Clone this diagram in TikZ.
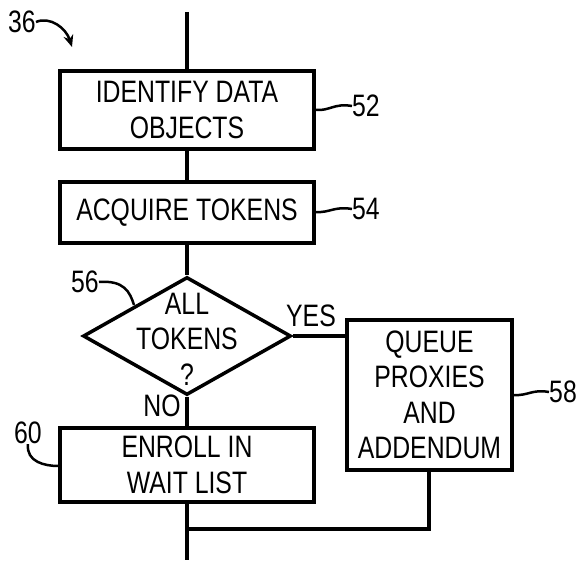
\documentclass[tikz,border=0pt]{standalone}
\usepackage{fontspec}
\setmainfont{Liberation Sans}[FakeStretch=0.8]
\usetikzlibrary{shapes.geometric,arrows.meta}
\begin{document}
\begin{tikzpicture}[x=1pt,y=-1pt,
  box/.style={draw,line width=3.5pt,inner sep=0pt,align=center,
    font=\fontsize{31}{35.5}\selectfont},
  txt/.style={inner sep=0pt,align=center,font=\fontsize{31}{35.5}\selectfont},
  flow/.style={line width=3.5pt},
  lead/.style={line width=2.5pt}]
\useasboundingbox (0,0) rectangle (579,564);
\node[box,minimum width=254pt,minimum height=78pt] (b52) at (187,110) {IDENTIFY DATA\\OBJECTS};
\node[box,minimum width=254pt,minimum height=61pt] (b54) at (187,212.5) {ACQUIRE TOKENS};
\node[draw,diamond,line width=3.5pt,inner sep=0pt,minimum width=208pt,minimum height=118pt] (d56) at (187,336) {};
\node[txt] (d56t) at (187,339) {ALL\\TOKENS\\?};
\node[box,minimum width=254pt,minimum height=74pt] (b60) at (187,465) {ENROLL IN\\WAIT LIST};
\node[box,minimum width=165pt,minimum height=150pt] (b58) at (429.5,395) {QUEUE\\PROXIES\\AND\\ADDENDUM};
\coordinate (top) at (187,12);
\coordinate (bot) at (187,560);
\coordinate (join) at (187,529);
\coordinate (corner) at (429,529);
\draw[flow] (top) -- (b52.north);
\draw[flow] (b52.south) -- (b54.north);
\draw[flow] (b54.south) -- (d56.north);
\draw[flow] (d56.south) -- (b60.north);
\draw[flow] (b60.south) -- (bot);
\draw[flow] (d56.east) -- (b58.west |- d56.east);
\draw[flow] (b58.south -| corner) -- (corner) -- (join);
\node[txt] (yes) at (311,316) {YES};
\node[txt] (no) at (162,406) {NO};
% reference labels
\node[txt] (l36) at (22,22) {36};
\node[txt] (l52) at (366,106) {52};
\node[txt] (l54) at (366,209) {54};
\node[txt] (l58) at (563,392) {58};
\node[txt] (l56) at (85,282) {56};
\node[txt] (l60) at (28,433) {60};
\draw[lead,-{Stealth[length=12pt,width=10pt]}] (l36.east) .. controls (50,16) and (66,28) .. (72,47);
\draw[lead] (b52.east |- 0,110) .. controls (330,111) and (334,103) .. (l52.west);
\draw[lead] (b54.east |- 0,212) .. controls (330,213) and (334,206) .. (l54.west);
\draw[lead] (b58.east |- 0,395) .. controls (528,396) and (532,389) .. (l58.west);
\draw[lead] (l56.east) .. controls (124,280) and (130,292) .. (134,305);
\draw[lead] (l60.south) .. controls (26,462) and (45,466) .. (b60.west |- 0,466);
\end{tikzpicture}
\end{document}
